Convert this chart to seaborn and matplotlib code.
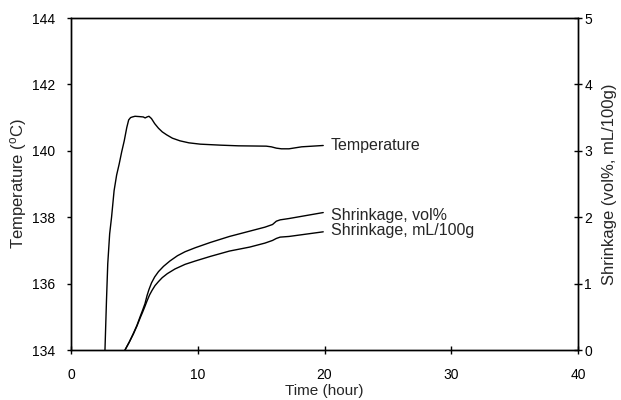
import numpy as np
import pandas as pd
import matplotlib
matplotlib.use("Agg")
import matplotlib.pyplot as plt
import seaborn as sns

# Temperature curve (hour, degC)
temp_time = [2.68, 2.8, 2.9, 3.05, 3.2, 3.4, 3.6, 3.8, 4.0, 4.2, 4.4, 4.55,
             4.7, 4.85, 5.05, 5.4, 5.7, 5.85, 6.0, 6.15, 6.35, 6.6, 6.9, 7.2,
             7.55, 8.0, 8.6, 9.3, 10.2, 11.8, 13.2, 15.4, 15.8, 16.2, 16.6,
             17.2, 18.2, 19.9]
temp_vals = [134.0, 135.5, 136.6, 137.5, 138.0, 138.8, 139.27, 139.6, 139.97,
             140.3, 140.7, 140.93, 141.0, 141.02, 141.04, 141.03, 141.02,
             140.99, 141.02, 141.04, 140.97, 140.82, 140.68, 140.57, 140.48,
             140.38, 140.3, 140.24, 140.2, 140.17, 140.15, 140.14, 140.12,
             140.08, 140.06, 140.06, 140.12, 140.16]

# Shrinkage, vol%
vol_time = [4.26, 4.6, 4.92, 5.2, 5.45, 5.65, 5.84, 6.0, 6.15, 6.35, 6.6,
            6.9, 7.3, 7.8, 8.4, 9.0, 9.8, 11.0, 12.5, 14.1, 15.3, 15.9, 16.2,
            16.5, 17.2, 19.9]
vol_vals = [0.0, 0.12, 0.25, 0.37, 0.50, 0.60, 0.70, 0.82, 0.91, 1.01, 1.10,
            1.18, 1.26, 1.34, 1.42, 1.48, 1.54, 1.62, 1.71, 1.79, 1.85, 1.89,
            1.94, 1.96, 1.98, 2.07]

# Shrinkage, mL/100g
ml_time = [4.26, 4.6, 4.92, 5.2, 5.45, 5.65, 5.84, 6.0, 6.2, 6.4, 6.63, 6.9,
           7.2, 7.6, 8.2, 9.0, 9.8, 11.0, 12.5, 14.1, 15.3, 15.9, 16.2, 16.5,
           17.2, 19.9]
ml_vals = [0.0, 0.12, 0.24, 0.36, 0.48, 0.57, 0.66, 0.74, 0.83, 0.90, 0.97,
           1.03, 1.09, 1.15, 1.22, 1.29, 1.34, 1.41, 1.49, 1.55, 1.61, 1.65,
           1.68, 1.70, 1.71, 1.78]

labels = ["Temperature", "Shrinkage, vol%", "Shrinkage, mL/100g"]
x_ticks = [0, 10, 20, 30, 40]
y_ticks = [134, 136, 138, 140, 142, 144]
y2_ticks = [0, 1, 2, 3, 4, 5]

sns.set_theme(style="ticks")
plt.rcParams["font.family"] = ["Liberation Sans", "DejaVu Sans"]
plt.rcParams["mathtext.fontset"] = "custom"
plt.rcParams["mathtext.rm"] = "Liberation Sans"
plt.rcParams["font.size"] = 10

fig = plt.figure(figsize=(6.21, 4.0), dpi=100)
ax = fig.add_axes([71 / 621, 50 / 400, (578 - 71) / 621, (350 - 18) / 400])
ax2 = ax.twinx()

df_t = pd.DataFrame({"t": temp_time, "v": temp_vals})
df_v = pd.DataFrame({"t": vol_time, "v": vol_vals})
df_m = pd.DataFrame({"t": ml_time, "v": ml_vals})

LW = 1.0
sns.lineplot(data=df_t, x="t", y="v", ax=ax, color="black", lw=LW,
             estimator=None, sort=False)
sns.lineplot(data=df_v, x="t", y="v", ax=ax2, color="black", lw=LW,
             estimator=None, sort=False)
sns.lineplot(data=df_m, x="t", y="v", ax=ax2, color="black", lw=LW,
             estimator=None, sort=False)

ax.set_xlim(0, 40)
ax.set_ylim(134, 144)
ax2.set_ylim(0, 5)
ax.set_xticks(x_ticks)
ax.set_yticks(y_ticks)
ax2.set_yticks(y2_ticks)

for a in (ax, ax2):
    for s in a.spines.values():
        s.set_visible(True)
        s.set_color("black")
        s.set_linewidth(1.0)

ax.tick_params(axis="y", direction="out", length=3, width=1, colors="black",
               labelsize=10, pad=8.4)
ax.tick_params(axis="x", direction="inout", length=6, width=1, colors="black",
               labelsize=10, pad=10)
ax2.tick_params(axis="y", direction="inout", length=6, width=1, colors="black",
                labelsize=10, pad=1.5)

ax.set_xlabel("Time (hour)", fontsize=11, labelpad=0)
ax.xaxis.set_label_coords(0.5, -(384 - 350) / 332, transform=ax.transAxes)
ax.xaxis.label.set_va("top")
ax.set_ylabel("Temperature ($\\rm ^{o}$C)", fontsize=12)
ax.yaxis.set_label_coords(-(71 - 29) / 507, 0.5)
ax2.set_ylabel("Shrinkage (vol%, mL/100g)", fontsize=12, rotation=90)
ax2.yaxis.set_label_coords(1 + (602 - 578) / 507, 0.5)

ax.text(temp_time[-1] + 0.6, 140.17, labels[0], va="center",
        ha="left", fontsize=11.5)
ax2.text(vol_time[-1] + 0.6, 2.02, labels[1], va="center",
         ha="left", fontsize=11.5)
ax2.text(ml_time[-1] + 0.6, 1.80, labels[2], va="center",
         ha="left", fontsize=11.5)

fig.savefig("out.png", dpi=100)
